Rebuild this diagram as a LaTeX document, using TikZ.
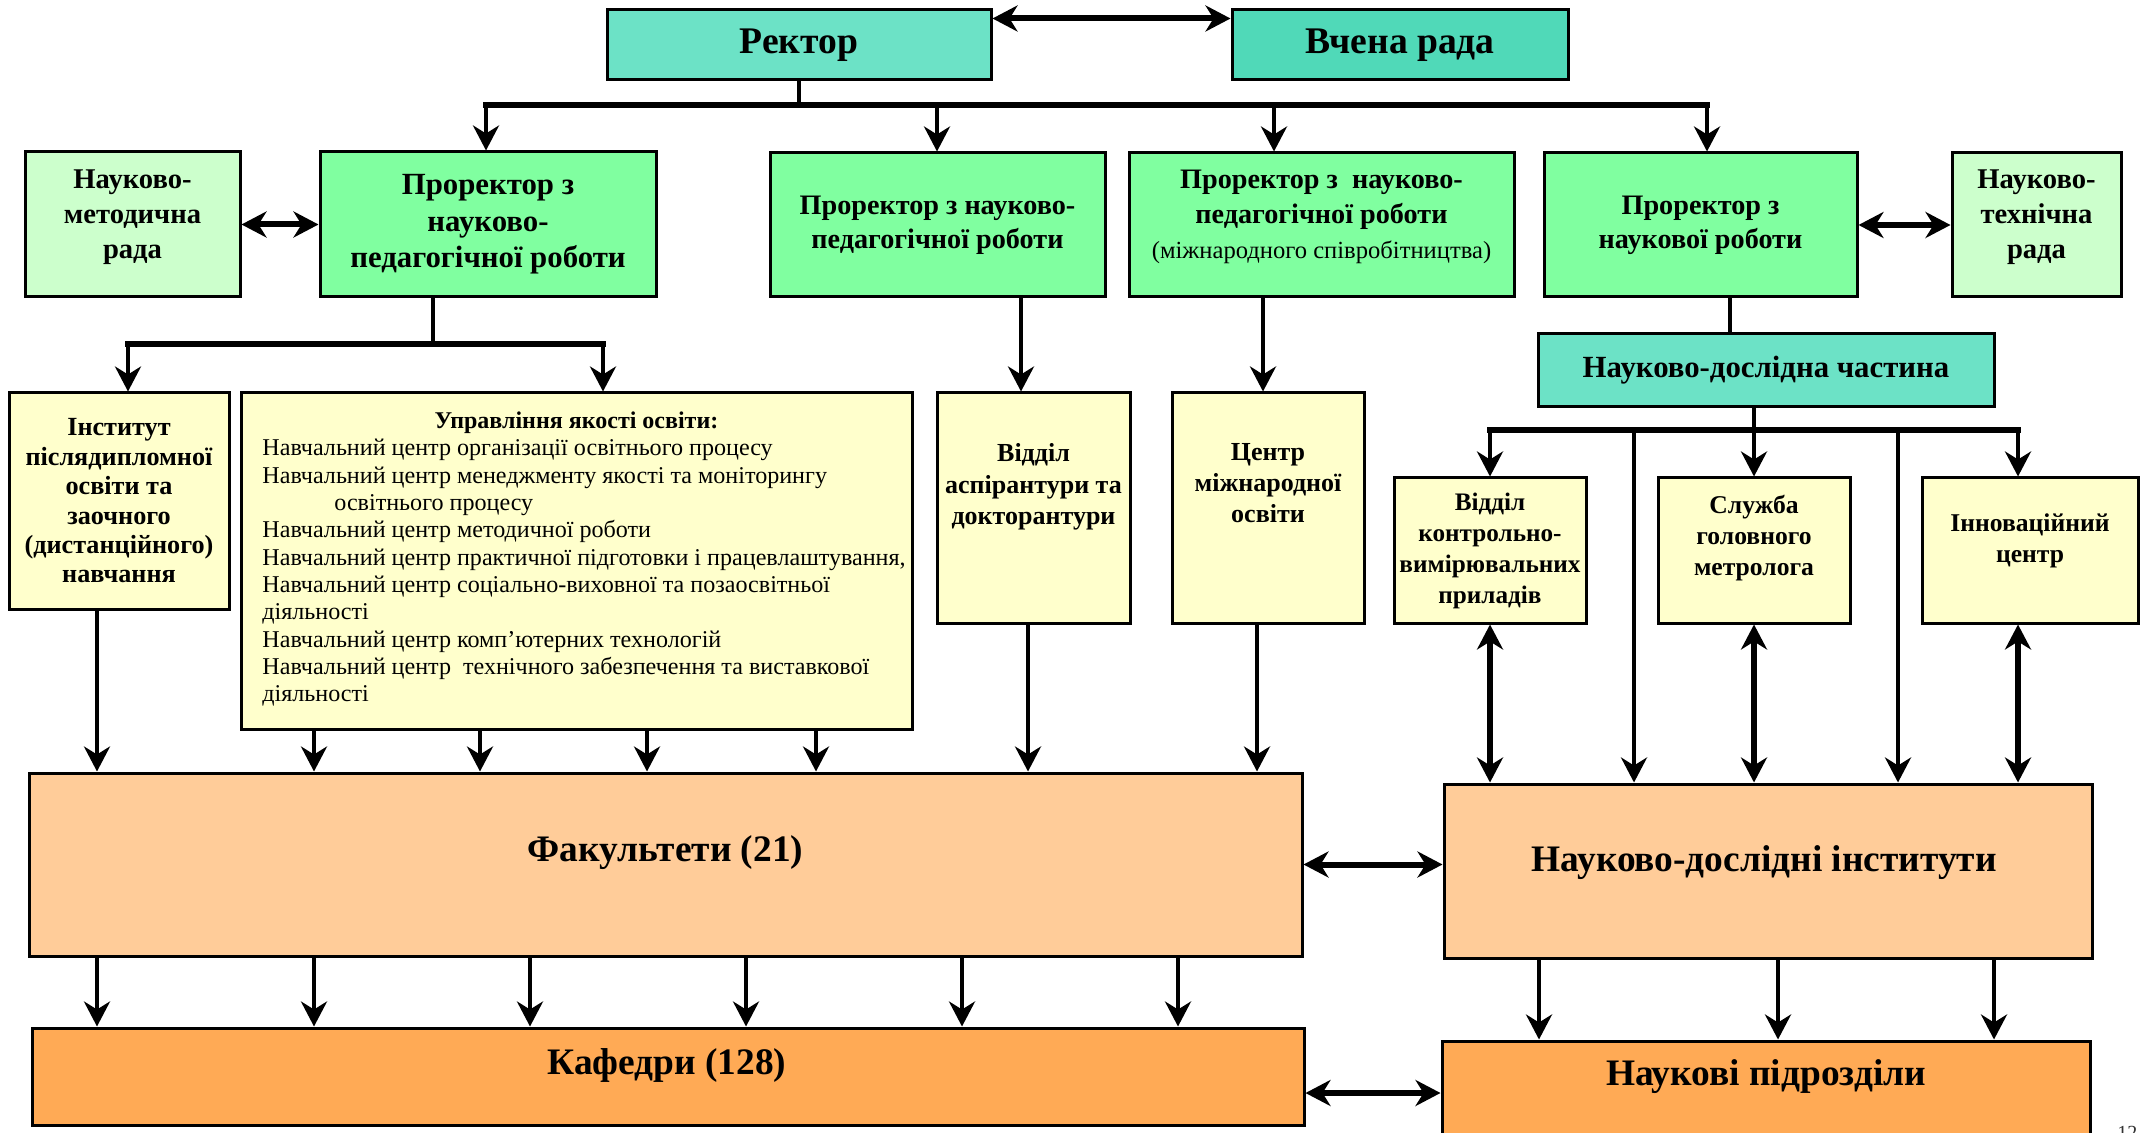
\documentclass[tikz,border=0pt]{standalone}
\usepackage{fontspec}
\setmainfont{Liberation Serif}
\usetikzlibrary{arrows.meta,calc}
\definecolor{tealA}{RGB}{108,226,198}
\definecolor{tealB}{RGB}{80,217,184}
\definecolor{greenP}{RGB}{128,255,160}
\definecolor{greenL}{RGB}{204,255,204}
\definecolor{yellowL}{RGB}{255,255,204}
\definecolor{peach}{RGB}{255,204,153}
\definecolor{orangeK}{RGB}{255,170,85}
\newcommand{\myfs}[2]{\fontsize{#1}{#2}\selectfont}
\tikzset{
  box/.style={draw=black, line width=1.5pt, inner sep=0pt, align=center},
  txt/.style={inner sep=0pt, align=center},
  tipA/.tip={Stealth[length=12.5pt,width=13pt,inset=4pt]},
  conn/.style={line width=2pt, -tipA},
  plain/.style={line width=2pt},
  barline/.style={line width=2.75pt, line cap=rect},
  dbl/.style={line width=3pt, tipA-tipA},
}
\begin{document}
\begin{tikzpicture}[x=0.5pt,y=-0.5pt]
\clip (0,0) rectangle (2150,1133);
\fill[white] (0,0) rectangle (2150,1133);

% top
\node[box, fill=tealA, minimum width=192pt, minimum height=35pt, font=\bfseries\myfs{18.8}{22}] (rector) at (799,45) {Ректор};
\node[box, fill=tealB, minimum width=168pt, minimum height=35pt, font=\bfseries\myfs{18.8}{22}] (vr) at (1400,45) {Вчена рада};

% second row
\node[box, fill=greenL, minimum width=107.5pt, minimum height=72.5pt] (nmr) at (132.5,224.5) {};
\node[txt, font=\bfseries\myfs{14.3}{17.5}] (nmrt) at (132.5,217) {Науково-\\методична\\рада};
\node[box, fill=greenP, minimum width=168pt, minimum height=72.5pt, font=\bfseries\myfs{15.4}{18.3}] (p1) at (488,224.5) {Проректор з\\науково-\\педагогічної роботи};
\node[box, fill=greenP, minimum width=167.5pt, minimum height=72pt, font=\bfseries\myfs{14.1}{17}] (p2) at (937.5,225) {Проректор з науково-\\педагогічної роботи};
\node[box, fill=greenP, minimum width=192.5pt, minimum height=72pt] (p3) at (1321.5,225) {};
\node[txt, font=\bfseries\myfs{14.1}{17.5}] (p3t) at (1321.5,217) {Проректор з\ \ науково-\\педагогічної роботи\\{\mdseries\myfs{12.3}{17.5}(міжнародного співробітництва)}};
\node[box, fill=greenP, minimum width=156.5pt, minimum height=72pt, font=\bfseries\myfs{14.1}{17}] (p4) at (1700.5,225) {Проректор з\\наукової роботи};
\node[box, fill=greenL, minimum width=84.5pt, minimum height=72pt] (ntr) at (2036.5,225) {};
\node[txt, font=\bfseries\myfs{14.3}{17.5}] (ntrt) at (2036.5,217) {Науково-\\технічна\\рада};

% third row
\node[box, fill=yellowL, minimum width=110pt, minimum height=108pt, font=\bfseries\myfs{13.1}{14.7}] (inst) at (119,501) {Інститут\\післядипломної\\освіти та\\заочного\\(дистанційного)\\навчання};
\node[box, fill=yellowL, minimum width=335.5pt, minimum height=168pt] (uyao) at (576.5,561) {};
\node[txt, font=\bfseries\myfs{12}{13.65}] (uyaot) at (576.5,423) {Управління якості освіти:};
\node[txt, anchor=north west, align=left, font=\myfs{12.05}{13.65}] (uyaob) at (262,439) {Навчальний центр організації освітнього процесу\\
Навчальний центр менеджменту якості та моніторингу\\
\hspace*{36pt}освітнього процесу\\
Навчальний центр методичної роботи\\
Навчальний центр практичної підготовки і працевлаштування,\\
Навчальний центр соціально-виховної та позаосвітньої\\
діяльності\\
Навчальний центр комп’ютерних технологій\\
Навчальний центр\ \ технічного забезпечення та виставкової\\
діяльності};
\node[box, fill=yellowL, minimum width=96.5pt, minimum height=115pt] (asp) at (1033.5,508) {};
\node[txt, font=\bfseries\myfs{13}{15.8}] (aspt) at (1033.5,487) {Відділ\\аспірантури та\\докторантури};
\node[box, fill=yellowL, minimum width=96pt, minimum height=115pt] (cmo) at (1268,508) {};
\node[txt, font=\bfseries\myfs{13}{15.5}] (cmot) at (1268,483) {Центр\\міжнародної\\освіти};
\node[box, fill=tealA, minimum width=228pt, minimum height=36.5pt, font=\bfseries\myfs{15.4}{18}] (ndch) at (1766,370.5) {Науково-дослідна частина};
\node[box, fill=yellowL, minimum width=96pt, minimum height=72.5pt, font=\bfseries\myfs{12.6}{15.5}] (kvp) at (1490,550.5) {Відділ\\контрольно-\\вимірювальних\\приладів};
\node[box, fill=yellowL, minimum width=96pt, minimum height=72.5pt] (sgm) at (1754,550.5) {};
\node[txt, font=\bfseries\myfs{12.8}{15.5}] (sgmt) at (1754,538) {Служба\\головного\\метролога};
\node[box, fill=yellowL, minimum width=108pt, minimum height=72.5pt] (inn) at (2030,550.5) {};
\node[txt, font=\bfseries\myfs{12.8}{15.5}] (innt) at (2030,541) {Інноваційний\\центр};

% bottom
\node[box, fill=peach, minimum width=636.5pt, minimum height=91.5pt] (fak) at (665.5,864.5) {};
\node[txt, font=\bfseries\myfs{18.7}{22}] (fakt) at (665.5,853) {Факультети (21)};
\node[box, fill=peach, minimum width=324pt, minimum height=87pt] (ndi) at (1768,871) {};
\node[txt, font=\bfseries\myfs{18.7}{22}] (ndit) at (1764,863) {Науково-дослідні інститути};
\node[box, fill=orangeK, minimum width=636pt, minimum height=48.5pt] (kaf) at (668,1076.5) {};
\node[txt, font=\bfseries\myfs{18.7}{22}] (kaft) at (667,1065) {Кафедри (128)};
\node[box, fill=orangeK, minimum width=324pt, minimum height=60pt] (np) at (1766,1101) {};
\node[txt, font=\bfseries\myfs{18.7}{22}] (npt) at (1766,1077) {Наукові підрозділи};
\node[txt, anchor=north west, font=\myfs{10}{12}, text=black!80] (pg) at (2117,1126) {12};

% connectors: top
\draw[dbl] ([yshift=-5pt]rector.north east) -- ([yshift=-5pt]vr.north west);
\coordinate (rb) at (799,105);
\coordinate (barL) at (486,105);
\coordinate (barR) at (1707,105);
\coordinate (a2) at (937,105);
\coordinate (a3) at (1274,105);
\draw[plain] (rector.south) -- (rb);
\draw[barline] (barL) -- (barR);
\draw[conn] (barL) -- (barL |- p1.north);
\draw[conn] (a2) -- (a2 |- p2.north);
\draw[conn] (a3) -- (a3 |- p3.north);
\draw[conn] (barR) -- (barR |- p4.north);
\draw[dbl] (nmr.east) -- (p1.west);
\draw[dbl] (p4.east) -- (ntr.west);

% p1 down
\coordinate (p1b) at (433,344);
\coordinate (b1L) at (128,344);
\coordinate (b1R) at (603,344);
\draw[plain] (p1b |- p1.south) -- (p1b);
\draw[barline] (b1L) -- (b1R);
\draw[conn] (b1L) -- (b1L |- inst.north);
\draw[conn] (b1R) -- (b1R |- uyao.north);

% p2, p3 down
\coordinate (x2) at (1021,0);
\draw[conn] (x2 |- p2.south) -- (x2 |- asp.north);
\coordinate (x3) at (1263,0);
\draw[conn] (x3 |- p3.south) -- (x3 |- cmo.north);

% p4 to research part
\coordinate (x4) at (1730,0);
\draw[plain] (x4 |- p4.south) -- (x4 |- ndch.north);
\coordinate (nb) at (1754,430);
\coordinate (nbL) at (1490,430);
\coordinate (nbR) at (2018,430);
\coordinate (nb2) at (1634,430);
\coordinate (nb4) at (1898,430);
\draw[plain] (nb |- ndch.south) -- (nb);
\draw[barline] (nbL) -- (nbR);
\draw[conn] (nbL) -- (nbL |- kvp.north);
\draw[conn] (nb) -- (nb |- sgm.north);
\draw[conn] (nbR) -- (nbR |- inn.north);
\draw[conn] (nb2) -- (nb2 |- ndi.north);
\draw[conn] (nb4) -- (nb4 |- ndi.north);
\draw[dbl] (nbL |- kvp.south) -- (nbL |- ndi.north);
\draw[dbl] (nb |- sgm.south) -- (nb |- ndi.north);
\draw[dbl] (nbR |- inn.south) -- (nbR |- ndi.north);

% into faculties
\coordinate (f1) at (97,0);
\draw[conn] (f1 |- inst.south) -- (f1 |- fak.north);
\foreach \x/\n in {314/u1,480/u2,647/u3,816/u4}{
  \coordinate (\n) at (\x,0);
  \draw[conn] (\n |- uyao.south) -- (\n |- fak.north);
}
\coordinate (f6) at (1028,0);
\draw[conn] (f6 |- asp.south) -- (f6 |- fak.north);
\coordinate (f7) at (1257,0);
\draw[conn] (f7 |- cmo.south) -- (f7 |- fak.north);

% faculties - institutes
\draw[dbl] (fak.east) -- (fak.east -| ndi.west);

% faculties -> departments
\foreach \x/\n in {97/k1,314/k2,530/k3,746/k4,962/k5,1178/k6}{
  \coordinate (\n) at (\x,0);
  \draw[conn] (\n |- fak.south) -- (\n |- kaf.north);
}
% institutes -> units
\foreach \x/\n in {1539/n1,1778/n2,1994/n3}{
  \coordinate (\n) at (\x,0);
  \draw[conn] (\n |- ndi.south) -- (\n |- np.north);
}
\coordinate (ky) at (0,1093);
\draw[dbl] (kaf.east |- ky) -- (np.west |- ky);
\end{tikzpicture}
\end{document}
